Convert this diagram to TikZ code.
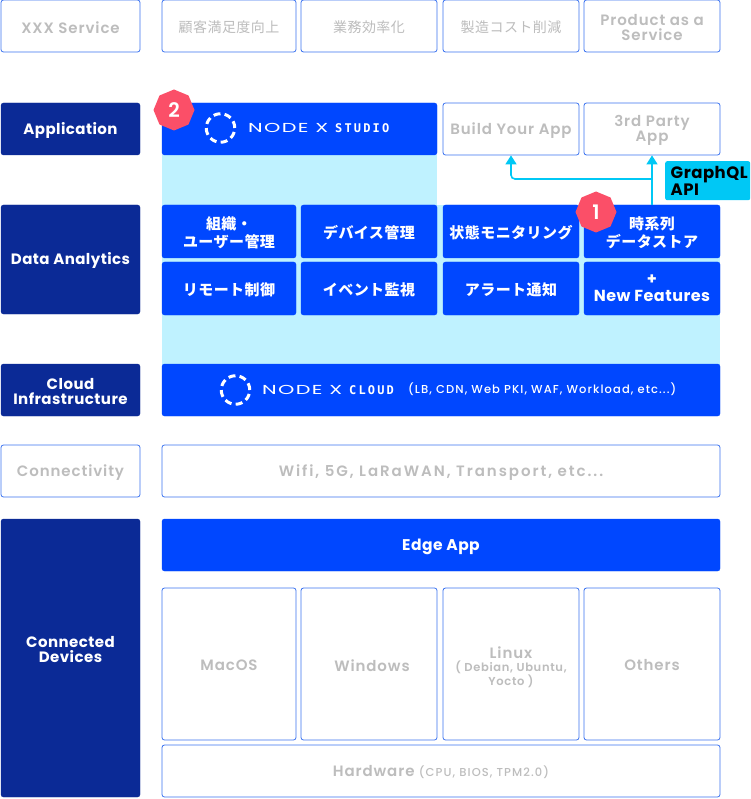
\documentclass[tikz,border=0pt]{standalone}
\usepackage{fontspec}
\setmainfont{Poppins}[LetterSpace=3]
\newfontfamily\jpf{Noto Sans CJK JP}[LetterSpace=3]
\newfontfamily\medf{Poppins SemiBold}[LetterSpace=6]
\newfontfamily\medw{Poppins SemiBold}[LetterSpace=13]
\newfontfamily\medx{Poppins Medium}[LetterSpace=9.5]
\newfontfamily\logof{Poppins}[LetterSpace=10,FakeStretch=1.6]
\newfontfamily\logob{DejaVu Sans Mono}[LetterSpace=18]
\usetikzlibrary{shapes.geometric,arrows.meta}
\definecolor{navy}{HTML}{0B2A96}
\definecolor{vivid}{HTML}{0047FF}
\definecolor{pale}{HTML}{BFF2FF}
\definecolor{accent}{HTML}{00C8F5}
\definecolor{badge}{HTML}{FB4F68}
\definecolor{greytxt}{HTML}{BDBDBD}
\definecolor{edge}{HTML}{3B73F0}
\tikzset{
  base/.style={rounded corners=2.5pt,inner sep=0pt,align=center,font=\fontsize{15}{15}\selectfont},
  navybox/.style={base,fill=navy,draw=navy,text=white,font=\fontsize{15}{15}\selectfont\bfseries},
  bluebox/.style={base,fill=vivid,draw=vivid,text=white,font=\fontsize{15}{15}\selectfont\bfseries},
  jpbox/.style={bluebox,font=\fontsize{15}{18}\selectfont\jpf\bfseries},
  openbox/.style={base,fill=white,draw=edge,line width=.8pt,text=greytxt,font=\fontsize{15}{15}\selectfont\medf},
  jpopen/.style={openbox,font=\fontsize{14}{15}\selectfont\jpf},
  octa/.style={regular polygon,regular polygon sides=8,shape border rotate=22.5,fill=badge,minimum size=41pt,inner sep=0pt,text=white,font=\fontsize{20}{20}\selectfont\medf},
  logoring/.style={circle,draw=white,line width=3pt,dash pattern=on 7pt off 4.2pt,minimum size=28.5pt,inner sep=0pt},
  lnk/.style={draw=accent,line width=1.6pt,-{Triangle[width=11pt,length=9pt]}},
  logotxt/.style={text=white,anchor=west,inner sep=0pt,font=\fontsize{13}{13}\selectfont\logof},
  logosub/.style={text=white,anchor=west,inner sep=0pt,font=\fontsize{12}{13}\selectfont\logob\bfseries},
}
\newcommand{\bxs}{-1.5pt}
\newcommand{\bx}[7]{\pgfmathsetmacro{\bxw}{#5-#3}\pgfmathsetmacro{\bxh}{#6-#4}%
  \pgfmathsetmacro{\bxcx}{(#3+#5)/2}\pgfmathsetmacro{\bxcy}{(#4+#6)/2}%
  \node[#1,minimum width=\bxw pt,minimum height=\bxh pt] (#2) at (\bxcx,\bxcy) {};
  \node[#1,draw=none,fill=none,yshift=\bxs] (#2t) at (#2.center) {#7};}
\begin{document}
\begin{tikzpicture}[x=1pt,y=-1pt]
\useasboundingbox (0,0) rectangle (750,799);
% pale band
\fill[pale] (162,155) rectangle (437,210);
\fill[pale] (162,205) rectangle (720,365);
% row: service
\bx{openbox}{svc}{1}{0}{140}{52}{XXX Service}
\bx{jpopen}{s1}{162}{0}{296}{52}{顧客満足度向上}
\bx{jpopen}{s2}{301}{0}{437}{52}{業務効率化}
\bx{jpopen}{s3}{443}{0}{579}{52}{製造コスト削減}
\bx{openbox}{s4}{584}{0}{720}{52}{Product as a\\Service}
% row: application
\bx{navybox}{app}{1}{103}{140}{155}{Application}
\bx{bluebox}{studio}{162}{103}{437}{155}{}
\bx{openbox}{build}{443}{103}{579}{155}{Build Your App}
\bx{openbox}{third}{584}{103}{720}{155}{3rd Party\\App}
\node[logoring] (ring1) at (220.5,128) {};
\node[logotxt] (nx1) at (248,128) {NODE X};
\node[logosub] (st1) at (335,128) {STUDIO};
% data analytics
\renewcommand{\bxs}{-0.5pt}
\bx{navybox}{data}{1}{205}{140}{314}{Data Analytics}
\renewcommand{\bxs}{-1.5pt}
\bx{jpbox}{d1}{162}{205}{296}{258}{組織・\\ユーザー管理}
\bx{jpbox}{d2}{301}{205}{437}{258}{デバイス管理}
\bx{jpbox}{d3}{443}{205}{579}{258}{状態モニタリング}
\bx{jpbox}{d4}{584}{205}{720}{258}{時系列\\データストア}
\bx{jpbox}{e1}{162}{262}{296}{315}{リモート制御}
\bx{jpbox}{e2}{301}{262}{437}{315}{イベント監視}
\bx{jpbox}{e3}{443}{262}{579}{315}{アラート通知}
\renewcommand{\bxs}{0pt}
\bx{bluebox,font=\fontsize{16}{17}\selectfont\bfseries}{e4}{584}{262}{720}{315}{+\\New Features}
\renewcommand{\bxs}{-1.5pt}
% connectors
\coordinate (jy) at (0,179);
\coordinate (junction) at (third.south |- jy);
\draw[lnk] (d4.north -| third.south) -- (third.south);
\draw[lnk,rounded corners=4pt] (junction) -- (build.south |- junction) -- (build.south);
\node[fill=accent,rounded corners=2pt,anchor=north west,minimum width=85pt,minimum height=39pt,inner sep=0pt,align=left,text=black,font=\fontsize{16.5}{14}\selectfont\bfseries] (gql) at (665,161) {\hspace{3pt}GraphQL\\\hspace{3pt}API};
% cloud
\bx{navybox}{cloud}{1}{364}{140}{416}{Cloud\\Infrastructure}
\bx{bluebox}{nxc}{162}{364}{720}{416}{}
\node[logoring] (ring2) at (235.5,390) {};
\node[logotxt] (nx2) at (262,390) {NODE X};
\node[logosub] (st2) at (349,390) {CLOUD};
\node[text=white,anchor=west,inner sep=0pt,font=\fontsize{11.5}{13}\selectfont\medx] (lb) at (408,389) {(LB, CDN, Web PKI, WAF, Workload, etc...)};
% connectivity
\bx{openbox}{conn}{1}{445}{140}{497}{Connectivity}
\bx{openbox,font=\fontsize{15}{15}\selectfont\medw}{wifi}{162}{445}{720}{497}{Wifi, 5G, LaRaWAN, Transport, etc...}
% devices
\renewcommand{\bxs}{8pt}
\bx{navybox}{dev}{1}{519}{140}{797}{Connected\\Devices}
\renewcommand{\bxs}{-2pt}
\bx{bluebox,font=\fontsize{15.5}{15}\selectfont\bfseries}{edgeapp}{162}{519}{720}{571}{Edge App}
\renewcommand{\bxs}{-1.5pt}
\bx{openbox}{mac}{162}{588}{296}{740}{MacOS}
\bx{openbox}{win}{301}{588}{437}{740}{\hspace{6pt}Windows}
\renewcommand{\bxs}{-3pt}
\bx{openbox,font=\fontsize{15}{13.5}\selectfont\medf}{lin}{443}{588}{579}{740}{Linux\\{\fontsize{11.5}{13.5}\selectfont ( Debian, Ubuntu,}\\{\fontsize{11.5}{13.5}\selectfont Yocto )}}
\renewcommand{\bxs}{-1.5pt}
\bx{openbox}{oth}{584}{588}{720}{740}{Others}
\bx{openbox}{hw}{162}{745}{720}{797}{Hardware {\fontsize{11.5}{15}\selectfont\medx (CPU, BIOS, TPM2.0)}}
% badges
\node[octa] (b2) at (174,110) {2};
\node[octa] (b1) at (596,212) {1};
\end{tikzpicture}
\end{document}
